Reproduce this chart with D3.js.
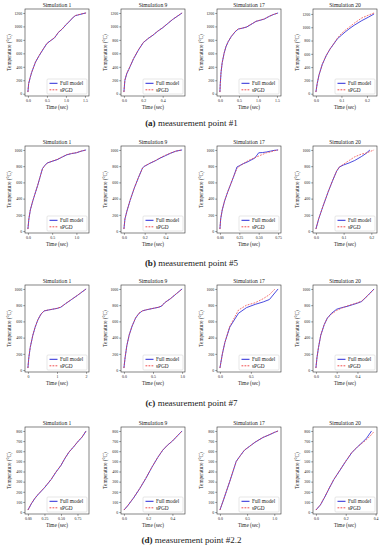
<!DOCTYPE html>
<html>
<head>
<meta charset="utf-8">
<script src="https://cdnjs.cloudflare.com/ajax/libs/d3/7.8.5/d3.min.js"></script>
<style>
  body { margin: 0; background: #fff; }
  svg text { font-family: "Liberation Serif", "Times New Roman", serif; fill: #222; }
</style>
</head>
<body>
<div id="chart"></div>
<script>
// (a) measurement point #1
const a1Time = [0, 0.02, 0.06, 0.1, 0.2, 0.3, 0.4, 0.5, 0.6, 0.7, 0.8, 0.9, 1.0, 1.1, 1.2, 1.25, 1.35, 1.45, 1.53];
const a1Full = [25, 150, 240, 318, 470, 570, 660, 746, 790, 830, 910, 960, 1023, 1080, 1140, 1160, 1175, 1190, 1200];
const a1Spgd = [25, 155, 245, 322, 472, 573, 662, 748, 792, 833, 912, 962, 1025, 1082, 1142, 1162, 1177, 1191, 1200];
const a2Time = [0, 0.01, 0.03, 0.05, 0.1, 0.15, 0.2, 0.25, 0.3, 0.35, 0.4, 0.45, 0.5, 0.55, 0.6];
const a2Full = [25, 200, 300, 360, 520, 650, 760, 820, 870, 930, 980, 1040, 1100, 1150, 1200];
const a2Spgd = [25, 205, 305, 365, 525, 655, 762, 822, 872, 932, 982, 1042, 1102, 1152, 1200];
const a3Time = [0, 0.01, 0.03, 0.06, 0.11, 0.16, 0.22, 0.3, 0.4, 0.48, 0.6, 0.7, 0.85, 0.95, 1.05, 1.17, 1.3, 1.4, 1.53];
const a3Full = [25, 150, 320, 460, 600, 700, 775, 850, 920, 960, 975, 990, 1040, 1075, 1090, 1110, 1150, 1175, 1200];
const a3Spgd = [25, 152, 322, 462, 602, 702, 777, 852, 922, 962, 977, 992, 1042, 1076, 1092, 1112, 1152, 1176, 1200];
const a4Time = [0, 0.005, 0.012, 0.025, 0.04, 0.055, 0.07, 0.085, 0.1, 0.115, 0.13, 0.15, 0.18, 0.205, 0.228];
const a4Full = [25, 150, 280, 440, 570, 670, 750, 830, 880, 930, 975, 1030, 1100, 1150, 1200];
const a4Spgd = [25, 152, 282, 442, 572, 672, 752, 840, 905, 955, 1000, 1060, 1140, 1180, 1215];

// (b) measurement point #5
const b1Time = [0, 0.02, 0.05, 0.1, 0.2, 0.3, 0.35, 0.4, 0.5, 0.6, 0.7, 0.8, 0.9, 1.0, 1.1, 1.2];
const b1Full = [25, 150, 260, 370, 560, 770, 810, 840, 860, 880, 910, 940, 955, 965, 985, 1000];
const b1Spgd = [25, 152, 262, 372, 562, 768, 808, 838, 862, 882, 912, 942, 957, 967, 986, 1000];
const b2Time = [0, 0.01, 0.03, 0.06, 0.1, 0.14, 0.18, 0.2, 0.25, 0.3, 0.35, 0.4, 0.45, 0.5, 0.56];
const b2Full = [25, 150, 250, 380, 530, 660, 780, 800, 835, 865, 900, 930, 960, 985, 1000];
const b2Spgd = [25, 152, 252, 382, 532, 662, 778, 802, 837, 867, 905, 935, 962, 986, 1000];
const b3Time = [0, 0.01, 0.03, 0.06, 0.1, 0.14, 0.18, 0.22, 0.25, 0.3, 0.35, 0.4, 0.45, 0.5, 0.55, 0.6, 0.65, 0.7, 0.75];
const b3Full = [25, 150, 260, 370, 480, 580, 680, 790, 805, 830, 850, 875, 900, 965, 968, 975, 985, 995, 1000];
const b3Spgd = [25, 152, 262, 372, 482, 582, 682, 770, 800, 830, 860, 885, 905, 925, 945, 965, 975, 990, 1000];
const b4TimeFull = [0, 0.01, 0.025, 0.045, 0.06, 0.075, 0.085, 0.1, 0.12, 0.14, 0.165, 0.18, 0.195];
const b4Full = [25, 150, 300, 490, 620, 740, 790, 815, 840, 870, 920, 955, 1000];
const b4TimeSpgd = [0, 0.01, 0.025, 0.045, 0.06, 0.075, 0.085, 0.1, 0.12, 0.14, 0.165, 0.18, 0.195, 0.21];
const b4Spgd = [25, 152, 302, 492, 622, 742, 792, 825, 870, 915, 950, 960, 980, 1000];

// (c) measurement point #7
const c1Time = [0, 0.03, 0.08, 0.17, 0.25, 0.34, 0.45, 0.56, 0.7, 0.85, 1.0, 1.13, 1.3, 1.5, 1.7, 1.85, 2.0];
const c1Full = [25, 150, 280, 430, 530, 617, 690, 729, 740, 750, 760, 775, 820, 870, 920, 960, 1000];
const c1Spgd = [25, 152, 282, 432, 532, 619, 692, 730, 741, 751, 761, 776, 821, 871, 921, 961, 1000];
const c2Time = [0, 0.02, 0.05, 0.09, 0.14, 0.2, 0.26, 0.32, 0.4, 0.5, 0.6, 0.65, 0.7, 0.8, 0.9, 1.0];
const c2Full = [25, 150, 300, 430, 540, 640, 700, 730, 745, 760, 775, 790, 830, 880, 940, 1000];
const c2Spgd = [25, 152, 302, 432, 542, 642, 702, 731, 746, 761, 776, 791, 831, 881, 941, 1000];
const c3TimeFull = [0, 0.04, 0.08, 0.16, 0.3, 0.43, 0.57, 0.7, 0.8, 0.94];
const c3Full = [25, 200, 340, 530, 700, 770, 810, 840, 870, 1000];
const c3TimeSpgd = [0, 0.04, 0.08, 0.16, 0.3, 0.43, 0.57, 0.7, 0.8, 0.89];
const c3Spgd = [25, 200, 340, 540, 740, 800, 830, 880, 930, 1000];
const c4Time = [0, 0.01, 0.025, 0.047, 0.08, 0.11, 0.15, 0.2, 0.25, 0.3, 0.35, 0.4, 0.44, 0.5, 0.56];
const c4Full = [25, 150, 280, 430, 560, 640, 700, 750, 770, 785, 805, 825, 845, 920, 1000];
const c4Spgd = [25, 152, 282, 432, 562, 642, 690, 735, 765, 790, 810, 830, 850, 920, 1000];

// (d) measurement point #2.2
const d1Time = [0, 0.05, 0.1, 0.15, 0.25, 0.35, 0.42, 0.5, 0.56, 0.62, 0.7, 0.75, 0.82, 0.88];
const d1Full = [20, 80, 130, 170, 240, 320, 390, 460, 530, 590, 650, 690, 740, 800];
const d1Spgd = [20, 82, 132, 172, 242, 322, 392, 462, 531, 591, 651, 691, 741, 800];
const d2Time = [0, 0.03, 0.08, 0.13, 0.18, 0.23, 0.28, 0.32, 0.36, 0.4, 0.44, 0.48];
const d2Full = [20, 60, 140, 230, 330, 440, 540, 610, 660, 700, 750, 800];
const d2Spgd = [20, 62, 142, 232, 332, 441, 541, 611, 661, 701, 751, 800];
const d3Time = [0, 0.06, 0.12, 0.18, 0.24, 0.3, 0.38, 0.45, 0.55, 0.65, 0.79, 0.9, 1.0, 1.07];
const d3Full = [20, 110, 205, 300, 400, 500, 560, 610, 650, 690, 735, 760, 785, 800];
const d3Spgd = [20, 112, 207, 302, 402, 498, 560, 610, 651, 691, 736, 761, 786, 800];
const d4TimeFull = [0, 0.03, 0.06, 0.09, 0.12, 0.16, 0.2, 0.24, 0.28, 0.31, 0.34, 0.373];
const d4Full = [20, 70, 150, 237, 320, 410, 500, 585, 645, 685, 730, 800];
const d4TimeSpgd = [0, 0.03, 0.06, 0.09, 0.12, 0.16, 0.2, 0.24, 0.28, 0.31, 0.34, 0.37, 0.39];
const d4Spgd = [20, 72, 152, 239, 322, 412, 502, 587, 645, 680, 715, 760, 795];

const titles = ["Simulation 1", "Simulation 9", "Simulation 17", "Simulation 20"];
const captionTags = ["(a)", "(b)", "(c)", "(d)"];
const captionTexts = [" measurement point #1", " measurement point #5", " measurement point #7", " measurement point #2.2"];
const rowYTicks = [
  [0, 200, 400, 600, 800, 1000, 1200],
  [0, 200, 400, 600, 800, 1000],
  [0, 200, 400, 600, 800, 1000],
  [0, 100, 200, 300, 400, 500, 600, 700, 800]
];
const legendLabels = ["Full model", "sPGD"];

const panels = [
  { row: 0, col: 0, tf: a1Time, full: a1Full, ts: a1Time, spgd: a1Spgd, xt: [0, 0.5, 1, 1.5], dec: 1 },
  { row: 0, col: 1, tf: a2Time, full: a2Full, ts: a2Time, spgd: a2Spgd, xt: [0, 0.2, 0.4], dec: 1 },
  { row: 0, col: 2, tf: a3Time, full: a3Full, ts: a3Time, spgd: a3Spgd, xt: [0, 0.5, 1, 1.5], dec: 1 },
  { row: 0, col: 3, tf: a4Time, full: a4Full, ts: a4Time, spgd: a4Spgd, xt: [0, 0.1, 0.2], dec: 1 },
  { row: 1, col: 0, tf: b1Time, full: b1Full, ts: b1Time, spgd: b1Spgd, xt: [0, 0.5, 1], dec: 1 },
  { row: 1, col: 1, tf: b2Time, full: b2Full, ts: b2Time, spgd: b2Spgd, xt: [0, 0.2, 0.4], dec: 1 },
  { row: 1, col: 2, tf: b3Time, full: b3Full, ts: b3Time, spgd: b3Spgd, xt: [0, 0.25, 0.5, 0.75], dec: 2 },
  { row: 1, col: 3, tf: b4TimeFull, full: b4Full, ts: b4TimeSpgd, spgd: b4Spgd, xt: [0, 0.1, 0.2], dec: 1 },
  { row: 2, col: 0, tf: c1Time, full: c1Full, ts: c1Time, spgd: c1Spgd, xt: [0, 1, 2], dec: 0 },
  { row: 2, col: 1, tf: c2Time, full: c2Full, ts: c2Time, spgd: c2Spgd, xt: [0, 0.5, 1], dec: 1 },
  { row: 2, col: 2, tf: c3TimeFull, full: c3Full, ts: c3TimeSpgd, spgd: c3Spgd, xt: [0, 0.5], dec: 1 },
  { row: 2, col: 3, tf: c4Time, full: c4Full, ts: c4Time, spgd: c4Spgd, xt: [0, 0.2, 0.4], dec: 1 },
  { row: 3, col: 0, tf: d1Time, full: d1Full, ts: d1Time, spgd: d1Spgd, xt: [0, 0.25, 0.5, 0.75], dec: 2 },
  { row: 3, col: 1, tf: d2Time, full: d2Full, ts: d2Time, spgd: d2Spgd, xt: [0, 0.2, 0.4], dec: 1 },
  { row: 3, col: 2, tf: d3Time, full: d3Full, ts: d3Time, spgd: d3Spgd, xt: [0, 0.5, 1], dec: 1 },
  { row: 3, col: 3, tf: d4TimeFull, full: d4Full, ts: d4TimeSpgd, spgd: d4Spgd, xt: [0, 0.2, 0.4], dec: 1 }
];

const width = 383, height = 550;
const rowTop = [9, 146, 285, 427];
const colLeft = [25, 121, 217, 313];
const captionY = [126, 266, 406, 543];
const pw = 64, ph = 87;
const fullColor = "#2a2ad8", spgdColor = "#f03a3a";

const svg = d3.select("#chart").append("svg")
  .attr("width", width)
  .attr("height", height);

function pad(ext) {
  const d = (ext[1] - ext[0]) * 0.05;
  return [ext[0] - d, ext[1] + d];
}

panels.forEach(p => {
  const g = svg.append("g")
    .attr("transform", `translate(${colLeft[p.col]},${rowTop[p.row]})`);

  const x = d3.scaleLinear()
    .domain(pad(d3.extent(p.tf.concat(p.ts))))
    .range([0, pw]);
  const y = d3.scaleLinear()
    .domain(pad(d3.extent(p.full.concat(p.spgd))))
    .range([ph, 0]);

  const xAxis = g.append("g")
    .attr("transform", `translate(0,${ph})`)
    .call(d3.axisBottom(x).tickValues(p.xt).tickSize(1.8).tickPadding(1).tickFormat(d3.format(`.${p.dec}f`)));
  const yAxis = g.append("g")
    .call(d3.axisLeft(y).tickValues(rowYTicks[p.row]).tickSize(1.8).tickPadding(1).tickFormat(d3.format("d")));
  [xAxis, yAxis].forEach(a => {
    a.select(".domain").remove();
    a.selectAll("line").attr("stroke", "#333").attr("stroke-width", 0.5);
    a.selectAll("text").style("font-family", "Liberation Serif, serif").style("font-size", "3.9px").attr("fill", "#222");
  });

  const line = d3.line().x(d => x(d[0])).y(d => y(d[1]));

  g.append("path")
    .attr("d", line(d3.zip(p.tf, p.full)))
    .attr("fill", "none")
    .attr("stroke", fullColor)
    .attr("stroke-opacity", 0.85)
    .attr("stroke-width", 1);

  g.append("path")
    .attr("d", line(d3.zip(p.ts, p.spgd)))
    .attr("fill", "none")
    .attr("stroke", spgdColor)
    .attr("stroke-opacity", 0.8)
    .attr("stroke-width", 0.9)
    .attr("stroke-dasharray", "1.8,1.2");

  g.append("rect")
    .attr("width", pw).attr("height", ph)
    .attr("fill", "none")
    .attr("stroke", "#333")
    .attr("stroke-width", 0.6);

  g.append("text")
    .attr("x", pw / 2).attr("y", -2)
    .attr("text-anchor", "middle")
    .style("font-size", "5.6px")
    .text(titles[p.col]);

  g.append("text")
    .attr("x", pw / 2).attr("y", ph + 13)
    .attr("text-anchor", "middle")
    .style("font-size", "5.2px")
    .text("Time (sec)");

  g.append("text")
    .attr("transform", `translate(-14,${ph / 2}) rotate(-90)`)
    .attr("text-anchor", "middle")
    .style("font-size", "5.2px")
    .text("Temperature (°C)");

  // legend
  const lg = g.append("g").attr("transform", `translate(${pw - 42},${ph - 17})`);
  lg.append("rect")
    .attr("width", 40).attr("height", 15).attr("rx", 1)
    .attr("fill", "#fff").attr("fill-opacity", 0.85)
    .attr("stroke", "#ccc").attr("stroke-width", 0.5);
  legendLabels.forEach((lab, i) => {
    const yy = 4.3 + i * 6.5;
    lg.append("line")
      .attr("x1", 2.5).attr("x2", 10.5).attr("y1", yy).attr("y2", yy)
      .attr("stroke", i === 0 ? fullColor : spgdColor)
      .attr("stroke-width", i === 0 ? 1 : 0.9)
      .attr("stroke-dasharray", i === 0 ? null : "1.8,1.2");
    lg.append("text")
      .attr("x", 13).attr("y", yy + 1.8)
      .style("font-size", "5.3px")
      .text(lab);
  });
});

captionTags.forEach((tag, i) => {
  const t = svg.append("text")
    .attr("x", width / 2).attr("y", captionY[i])
    .attr("text-anchor", "middle")
    .style("font-size", "9px");
  t.append("tspan").style("font-weight", "bold").text(tag);
  t.append("tspan").text(captionTexts[i]);
});
</script>
</body>
</html>
